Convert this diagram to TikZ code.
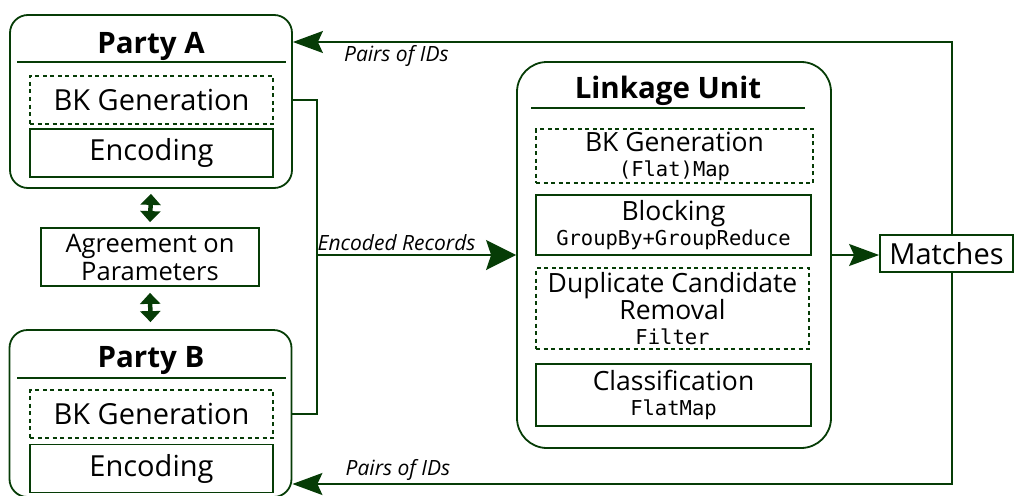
\documentclass[tikz,border=0pt]{standalone}
\usepackage{fontspec}
\setmainfont{Open Sans}
\setmonofont{DejaVu Sans Mono}
\usetikzlibrary{arrows.meta, positioning}

\definecolor{dkgreen}{RGB}{6,60,6}
\newcommand{\txfont}{\fontsize{29}{26}\selectfont}
\newcommand{\smfont}{\fontsize{26.5}{25}\selectfont}
\newcommand{\hdfont}{\fontsize{29.5}{30}\selectfont\bfseries}
\newcommand{\opfont}{\fontsize{20.5}{22}\selectfont\ttfamily}
\newcommand{\lblfont}{\fontsize{21}{22}\selectfont\itshape}

\begin{document}
\begin{tikzpicture}[x=1pt, y=-1pt, line width=1.8pt, color=dkgreen,
  every node/.style={text=black, inner sep=0pt},
  party/.style={draw, rounded corners=18pt, minimum width=282pt},
  link/.style={draw, rounded corners=30pt, minimum width=314pt, minimum height=386pt},
  hd/.style={font=\hdfont, anchor=base},
  stepbox/.style={draw, font=\txfont, minimum width=243pt, minimum height=48pt, align=center},
  optstep/.style={stepbox, dash pattern=on 4pt off 3.5pt},
  lstep/.style={stepbox, font=\smfont, minimum width=276pt},
  lopt/.style={optstep, font=\smfont, minimum width=276pt},
  wire/.style={line width=1.6pt},
  flow/.style={wire, -{Stealth[length=30pt, width=22pt, inset=5pt]}},
  twoway/.style={line width=4.5pt, {Triangle[length=11pt, width=20pt]}-{Triangle[length=11pt, width=20pt]}},
  lbl/.style={font=\lblfont, inner sep=3pt}
]
\useasboundingbox (0,0) rectangle (1014,495);

% Party A
\node[party, minimum height=173pt] (partyA) at (151,101.5) {};
\node[hd] (titleA) at (151,53) {Party A};
\draw (17,62) -- (286,62);
\node[optstep] (bkA) at (151.5,100) {BK Generation};
\node[stepbox] (encA) at (151.5,153) {Encoding};

% Agreement
\node[stepbox, font=\fontsize{25.5}{28}\selectfont, minimum width=218pt, minimum height=58pt] (agree) at (150,257) {Agreement on\\Parameters};
\draw[twoway] ([yshift=-5pt]partyA.south) -- ([yshift=5pt]agree.north);

% Party B
\node[party, minimum height=167pt] (partyB) at (150.5,413.5) {};
\node[hd] (titleB) at (151,367) {Party B};
\draw (17,378) -- (286,378);
\node[optstep] (bkB) at (151.5,414) {BK Generation};
\node[stepbox] (encB) at (151.5,468.5) {Encoding};
\draw[twoway] ([yshift=-6pt]agree.south) -- ([yshift=7pt]partyB.north);

% Linkage Unit
\node[link] (link) at (674,255) {};
\node[hd] (titleL) at (668,98) {Linkage Unit};
\draw (531,108) -- (805,108);
\node[lopt, minimum width=277pt, minimum height=54pt] (bkL) at (674.5,156) {BK Generation\\{\opfont (Flat)Map}};
\node[lstep, minimum width=275pt, minimum height=60pt] (blk) at (673.5,225) {Blocking\\{\opfont GroupBy+GroupReduce}};
\node[lopt, minimum width=273pt, minimum height=81pt] (dup) at (672.5,308.5) {Duplicate Candidate\\Removal\\{\opfont Filter}};
\node[lstep, minimum width=275pt, minimum height=62pt] (cls) at (673.5,395) {Classification\\{\opfont FlatMap}};

% Matches
\node[stepbox, minimum width=133pt, minimum height=37pt] (matches) at (946.5,253.5) {Matches};

% records to linkage unit
\draw[wire] (partyA.east |- bkA.east) -- ++(24,0) coordinate (bus) |- (partyB.east |- bkB.east);
\draw[flow, -{Stealth[length=30pt, width=30pt, inset=5pt]}] (bus |- link.west) -- node[lbl, above, pos=0.4] {Encoded Records} (link.west);
\draw[flow] (link.east) -- (matches.west |- link.east);

% pairs back to the parties
\coordinate (retTop) at (952,42);
\coordinate (retBot) at (952,484);
\draw[flow] (matches.north -| retTop) -- (retTop) -- node[lbl, below, pos=0.843] {Pairs of IDs} (partyA.east |- retTop);
\draw[flow] (matches.south -| retBot) -- (retBot) -- node[lbl, above, pos=0.84] {Pairs of IDs} (partyB.east |- retBot);

\end{tikzpicture}
\end{document}
